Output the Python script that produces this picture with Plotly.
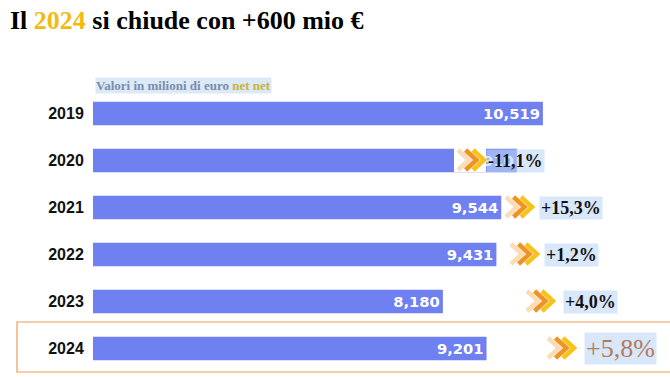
import plotly.graph_objects as go

# ---- data ----
years = ["2019", "2020", "2021", "2022", "2023", "2024"]
values = [10519, 9910, 9544, 9431, 8180, 9201]
value_labels = ["10,519", "9,910", "9,544", "9,431", "8,180", "9,201"]
pct_labels = ["", "-11,1%", "+15,3%", "+1,2%", "+4,0%", "+5,8%"]

title_pre = "Il "
title_year = "2024"
title_post = " si chiude con +600 mio €"
subtitle = "Valori in milioni di euro "
subtitle_tail = "net net"

# ---- styling / positioning (pixels) ----
W, H = 670, 377
ML, MR, MT, MB = 93, 0, 90, 5
PW = W - ML - MR
PH = H - MT - MB
XMAX = 13490
ROW_TOP, ROW_STEP = 113, 47

def px(p):
    return (p - ML) / PW

def py(p):
    return (H - MB - p) / PH

arrow_left = [None, 456, 504, 509, 525, 546]
pct_left = [None, 486, 539, 544, 563, 584]
pct_size = [0, 18, 18, 18, 18, 26]
pct_bold = [False, True, True, True, True, False]
pct_color = ["#000", "#111111", "#111111", "#111111", "#111111", "#b47a5c"]
chev_colors = ["#fbdcb5", "#ef9324", "#f7c31a"]

BAR = "#6f80f0"

fig = go.Figure()
fig.add_trace(go.Bar(
    y=years, x=values, orientation="h",
    marker=dict(color=BAR, line=dict(width=0)),
    width=0.5,
    text=value_labels, textposition="inside", insidetextanchor="end",
    textfont=dict(family="DejaVu Sans", size=16, color="white", weight="bold"),
    cliponaxis=False, hoverinfo="skip",
))

annotations = []
shapes = []
for i, yr in enumerate(years):
    if not pct_labels[i]:
        continue
    yc = ROW_TOP + ROW_STEP * i
    a = arrow_left[i]
    if i == 1:
        shapes.append(dict(type="rect", xref="paper", yref="paper",
                           x0=px(a - 2), x1=px(a + 30), y0=py(yc + 12), y1=py(yc - 12),
                           fillcolor="white", line=dict(width=0), layer="above"))
    for k, c in enumerate(chev_colors):
        x0 = a + 2 + k * 7.5
        path = (f"M {px(x0)},{py(yc - 10)} L {px(x0 + 11)},{py(yc)} "
                f"L {px(x0)},{py(yc + 10)}")
        shapes.append(dict(type="path", xref="paper", yref="paper", path=path,
                           line=dict(color=c, width=4.5), layer="above"))
    txt = f"<b>{pct_labels[i]}</b>" if pct_bold[i] else pct_labels[i]
    annotations.append(dict(
        x=px(pct_left[i]), xref="paper", xanchor="left",
        y=i, yref="y", yanchor="middle",
        text=txt, showarrow=False,
        font=dict(family="Liberation Serif", size=pct_size[i], color=pct_color[i]),
        bgcolor="rgba(190,215,245,0.6)", borderpad=1,
    ))

# title
annotations.append(dict(
    x=px(8), xref="paper", y=py(20), yref="paper",
    xanchor="left", yanchor="middle", showarrow=False,
    text=f"<b>{title_pre}<span style='color:#f5b914'>{title_year}</span>{title_post}</b>",
    font=dict(family="Liberation Serif", size=26, color="#000000"),
))

# subtitle
annotations.append(dict(
    x=px(95), xref="paper", y=py(85), yref="paper",
    xanchor="left", yanchor="middle", showarrow=False,
    text=f"<b>{subtitle}<span style='color:#c9b23c'>{subtitle_tail}</span></b>",
    font=dict(family="Liberation Serif", size=13, color="#7a8cab"),
    bgcolor="#dce9f7", borderpad=0,
))

shapes.append(dict(
    type="rect", xref="paper", yref="paper",
    x0=px(17), x1=px(672), y0=py(372), y1=py(322),
    line=dict(color="#f09a58", width=1.2), fillcolor="rgba(0,0,0,0)",
    layer="below",
))

fig.update_layout(
    width=W, height=H,
    margin=dict(l=ML, r=MR, t=MT, b=MB),
    paper_bgcolor="white", plot_bgcolor="white",
    showlegend=False,
    bargap=0.5,
    xaxis=dict(range=[0, XMAX], visible=False, fixedrange=True),
    yaxis=dict(type="category", categoryorder="array", categoryarray=years,
               range=[5.5, -0.5], showgrid=False, zeroline=False, showline=False,
               ticks="outside", ticklen=5, tickcolor="white",
               tickfont=dict(family="Liberation Sans", size=16, color="#111111", weight="bold"),
               fixedrange=True),
    annotations=annotations,
    shapes=shapes,
)

fig.write_html("out.html", config={"displayModeBar": False},
               post_script="document.body.style.margin='0';document.body.style.overflow='hidden';")
